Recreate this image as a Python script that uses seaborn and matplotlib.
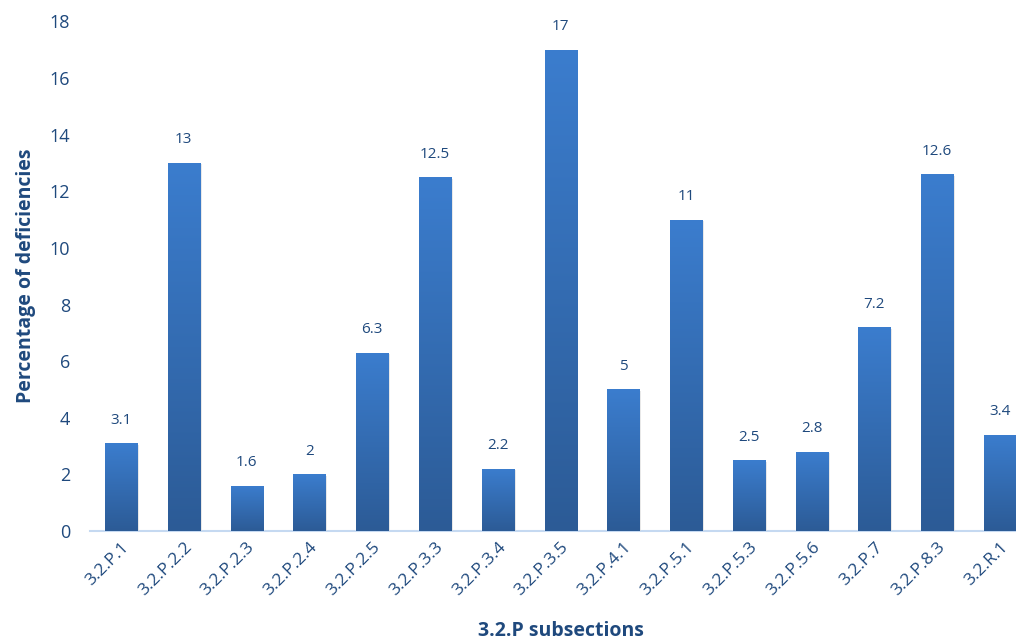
import numpy as np
import pandas as pd
import matplotlib
matplotlib.use('Agg')
import matplotlib.pyplot as plt
import seaborn as sns
from matplotlib.colors import LinearSegmentedColormap

subsections = ['3.2.P.1', '3.2.P.2.2', '3.2.P.2.3', '3.2.P.2.4', '3.2.P.2.5',
               '3.2.P.3.3', '3.2.P.3.4', '3.2.P.3.5', '3.2.P.4.1', '3.2.P.5.1',
               '3.2.P.5.3', '3.2.P.5.6', '3.2.P.7', '3.2.P.8.3', '3.2.R.1']
percentages = [3.1, 13, 1.6, 2, 6.3, 12.5, 2.2, 17, 5, 11, 2.5, 2.8, 7.2, 12.6, 3.4]
value_labels = ['3.1', '13', '1.6', '2', '6.3', '12.5', '2.2', '17', '5', '11',
                '2.5', '2.8', '7.2', '12.6', '3.4']

text_color = '#1f497d'
df = pd.DataFrame({'subsection': subsections, 'pct': percentages})

sns.set_style('white')
plt.rcParams['font.family'] = ['Open Sans', 'DejaVu Sans']

fig = plt.figure(figsize=(10.16, 6.41), dpi=100)
# the plot area runs slightly past the right edge, as in the original
ax = fig.add_axes([0.0882, 0.1716, 0.927, 0.795])

sns.barplot(data=df, x='subsection', y='pct', color='#3a78c4', width=0.51,
            ax=ax, saturation=1)

# vertical gradient inside each bar (light at top, darker at bottom)
cmap = LinearSegmentedColormap.from_list('bar', ['#2c5b96', '#3b7dce'])
grad = np.linspace(0, 1, 256).reshape(-1, 1)
for patch in ax.patches:
    x0, y0 = patch.get_x(), patch.get_y()
    w, h = patch.get_width(), patch.get_height()
    # soft shadow
    ax.bar(x0 + w / 2 + 0.03, h, width=w, bottom=y0 - 0.05, color='#c8c8c8',
           alpha=0.5, zorder=1, linewidth=0)
    im = ax.imshow(grad, extent=[x0, x0 + w, y0, y0 + h], origin='lower',
                   cmap=cmap, aspect='auto', zorder=3)
    im.set_clip_path(patch)
    patch.set_zorder(2)

for i, lab in enumerate(value_labels):
    ax.text(i, percentages[i] + 0.55, lab, ha='center', va='bottom',
            fontsize=11, color=text_color)

ax.set_xlim(-0.5, len(subsections) - 0.5)
ax.set_ylim(0, 18)
ax.set_yticks(range(0, 19, 2))
ax.tick_params(axis='y', labelsize=13, colors=text_color, length=0, pad=14)
ax.tick_params(axis='x', labelsize=12.5, colors=text_color, length=0, pad=6)
plt.setp(ax.get_xticklabels(), rotation=45, ha='right', rotation_mode='anchor')

ax.set_xlabel('3.2.P subsections', fontsize=14, fontweight='bold',
              color=text_color, labelpad=16)
ax.set_ylabel('Percentage of deficiencies', fontsize=14, fontweight='bold',
              color=text_color, labelpad=10)

for side in ['top', 'right', 'left']:
    ax.spines[side].set_visible(False)
ax.spines['bottom'].set_color('#c5d9f1')
ax.spines['bottom'].set_linewidth(1.5)
ax.spines['bottom'].set_zorder(0)

fig.savefig('out.png', dpi=100)
